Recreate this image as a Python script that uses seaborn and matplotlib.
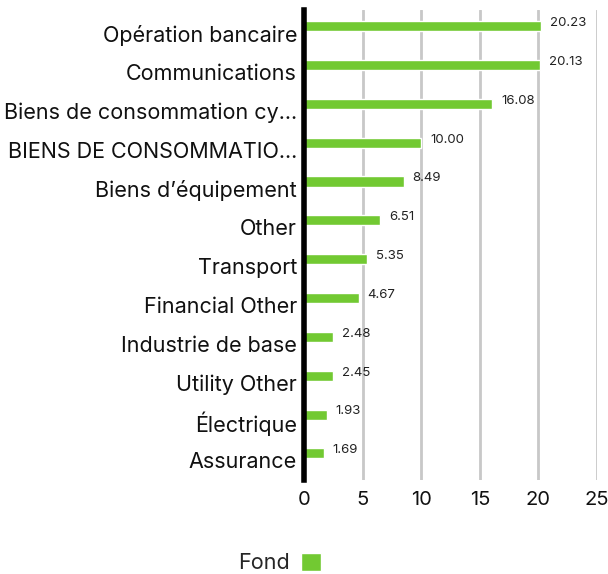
import pandas as pd
import matplotlib.pyplot as plt
import matplotlib.transforms as mtransforms
import seaborn as sns

# Chart data
sectors = ["Opération bancaire", "Communications", "Biens de consommation cy...",
           "BIENS DE CONSOMMATIO...", "Biens d\u2019équipement", "Other", "Transport",
           "Financial Other", "Industrie de base", "Utility Other", "Électrique", "Assurance"]
fond = [20.23, 20.13, 16.08, 10.00, 8.49, 6.51, 5.35, 4.67, 2.48, 2.45, 1.93, 1.69]
xticks = [0, 5, 10, 15, 20, 25]

df = pd.DataFrame({"sector": sectors, "Fond": fond})

sns.set_style("white")
plt.rcParams['font.family'] = ['Inter', 'DejaVu Sans']
green = "#72c932"

fig = plt.figure(figsize=(6.08, 5.74), dpi=100)
ax = fig.add_axes([0.5, 0.164, 0.482, 0.819])

sns.barplot(data=df, y="sector", x="Fond", color=green, width=0.26,
            saturation=1, ax=ax, label="Fond")

for i, v in enumerate(fond):
    ax.text(v + 0.75, i - 0.08, f"{v:.2f}", fontsize=9.5, color="#222222",
            va="center", ha="left")

ax.set_xlim(0, 25)
ax.set_ylim(11.68, -0.42)
ax.set_xticks(xticks)
ax.xaxis.grid(True, color="#c8c8c8", linewidth=2)
ax.set_axisbelow(True)
for s in ["top", "right", "bottom"]:
    ax.spines[s].set_visible(False)
ax.spines["left"].set_linewidth(4)
ax.spines["left"].set_color("black")
ax.tick_params(axis="y", length=0, labelsize=15.5, colors="#111111", pad=5)
ax.tick_params(axis="x", length=0, labelsize=14.5, colors="#111111", pad=8)
ax.set_xlabel("")
ax.set_ylabel("")

# category labels sit a little below the bars
shift = mtransforms.ScaledTranslation(0, -5 / 72, fig.dpi_scale_trans)
for lab in ax.get_yticklabels():
    lab.set_transform(lab.get_transform() + shift)

leg = ax.get_legend()
if leg is not None:
    leg.remove()
h, l = ax.get_legend_handles_labels()
fig.legend(h[:1], ["Fond"], loc="lower center", bbox_to_anchor=(0.46, -0.014),
           frameon=False, markerfirst=False, fontsize=15.5, handlelength=0.95,
           handleheight=0.95, handletextpad=0.5, borderaxespad=0)

fig.savefig("out.png", dpi=100)
